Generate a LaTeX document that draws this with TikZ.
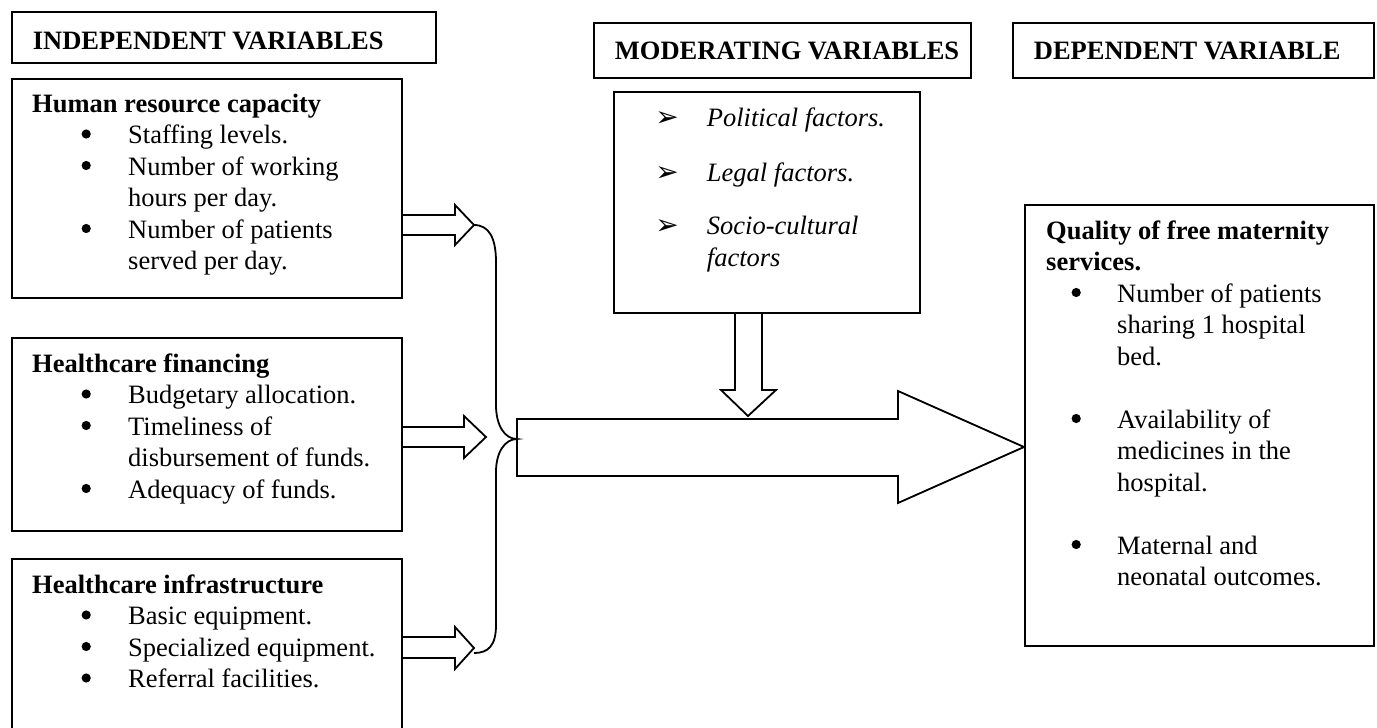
\documentclass[tikz,border=0pt]{standalone}
\usepackage{fontspec}
\setmainfont{Liberation Serif}
\newfontfamily\dejavu{DejaVu Sans}
\newcommand{\bdot}{\makebox[0pt]{\tikz[baseline=-9.5pt]\fill (0pt,0pt) circle (4.6pt);}}
\newcommand{\bl}{\hspace*{54pt}\bdot\hspace*{42pt}}
\newcommand{\nb}{\hspace*{96pt}}
\newcommand{\dbl}{\hspace*{30pt}\bdot\hspace*{41pt}}
\newcommand{\dnb}{\hspace*{71pt}}
\newcommand{\lns}[1]{\begin{tabular}[t]{@{}l@{}}#1\end{tabular}}
\begin{document}
\begin{tikzpicture}[x=1pt,y=-1pt,line width=1.8pt,line join=miter,
  box/.style={draw,rectangle,inner sep=0pt,anchor=north west},
  txt/.style={anchor=base west,inner sep=0pt,font=\fontsize{26.5}{31.5}\selectfont},
  hd/.style={txt,font=\fontsize{26.5}{31.5}\selectfont\bfseries},
  mtxt/.style={txt,font=\fontsize{26.5}{32}\selectfont\itshape},
  arr/.style={anchor=base,inner sep=0pt,font=\dejavu\fontsize{28}{28}\selectfont}]
\useasboundingbox (0,0) rectangle (1377,728);
\clip (0,0) rectangle (1377,728);

% header boxes
\node[box,minimum width=424pt,minimum height=51pt] (ivh) at (11,11) {};
\node[box,minimum width=377pt,minimum height=55pt] (mvh) at (593,22) {};
\node[box,minimum width=361pt,minimum height=55pt] (dvh) at (1012,22) {};
\node[hd] (ivt) at (32,49) {INDEPENDENT VARIABLES};
\node[hd] (mvt) at (614,59) {MODERATING VARIABLES};
\node[hd] (dvt) at (1033,59) {DEPENDENT VARIABLE};

% independent boxes
\node[box,minimum width=390pt,minimum height=219pt] (hr) at (11,78) {};
\node[box,minimum width=390pt,minimum height=193pt] (fin) at (11,337) {};
\node[box,minimum width=390pt,minimum height=200pt] (inf) at (11,558) {};

\node[txt] (hrt) at (32,112) {\lns{\textbf{Human resource capacity}\\
\bl Staffing levels.\\
\bl Number of working\\
\nb hours per day.\\
\bl Number of patients\\
\nb served per day.}};

\node[txt] (fint) at (32,372) {\lns{\textbf{Healthcare financing}\\
\bl Budgetary allocation.\\
\bl Timeliness of\\
\nb disbursement of funds.\\
\bl Adequacy of funds.}};

\node[txt] (inft) at (32,593) {\lns{\textbf{Healthcare infrastructure}\\
\bl Basic equipment.\\
\bl Specialized equipment.\\
\bl Referral facilities.}};

% moderating box
\node[box,minimum width=306pt,minimum height=221pt] (mod) at (613,91) {};
\node[arr] (a1) at (667,126) {➢};
\node[arr] (a2) at (667,181) {➢};
\node[arr] (a3) at (667,234) {➢};
\node[mtxt] (m1) at (706,126) {Political factors.};
\node[mtxt] (m2) at (706,181) {Legal factors.};
\node[mtxt] (m3) at (706,234) {\lns{Socio-cultural\\factors}};

% dependent box
\node[box,minimum width=349pt,minimum height=441pt] (dep) at (1024,204) {};
\node[txt] (dept) at (1046,239) {\lns{\textbf{Quality of free maternity}\\
\textbf{services.}\\
\dbl Number of patients\\
\dnb sharing 1 hospital\\
\dnb bed.\\[31.5pt]
\dbl Availability of\\
\dnb medicines in the\\
\dnb hospital.\\[31.5pt]
\dbl Maternal and\\
\dnb neonatal outcomes.}};

% small block arrows from the independent boxes
\coordinate (t1) at (474,225);
\coordinate (t2) at (486,437);
\coordinate (t3) at (474,648);
\draw (hr.east |- 0,215) -- (455,215) -- (455,205) -- (t1) -- (455,245) -- (455,235) -- (hr.east |- 0,235);
\draw (fin.east |- 0,427) -- (464,427) -- (464,416) -- (t2) -- (464,458) -- (464,447) -- (fin.east |- 0,447);
\draw (inf.east |- 0,637) -- (455,637) -- (455,627) -- (t3) -- (455,669) -- (455,658) -- (inf.east |- 0,658);

% brace
\coordinate (bt) at (517,439);
\coordinate (b3) at (474,653);
\draw (t1) .. controls (489,225) and (496,238) .. (496,262) -- (496,405)
  .. controls (496,426) and (505,439) .. (bt)
  .. controls (505,439) and (496,452) .. (496,472) -- (496,625)
  .. controls (496,646) and (488,653) .. (b3);

% big arrow to dependent box
\draw (bt |- 0,419) -- (898,419) -- (898,391) -- (dep.west |- 0,447) -- (898,503) -- (898,476) -- (bt |- 0,476) -- cycle;

% moderating arrow
\draw (735,312) -- (735,390) -- (721,390) -- (748,416) -- (776,390) -- (762,390) -- (762,312);
\end{tikzpicture}
\end{document}
